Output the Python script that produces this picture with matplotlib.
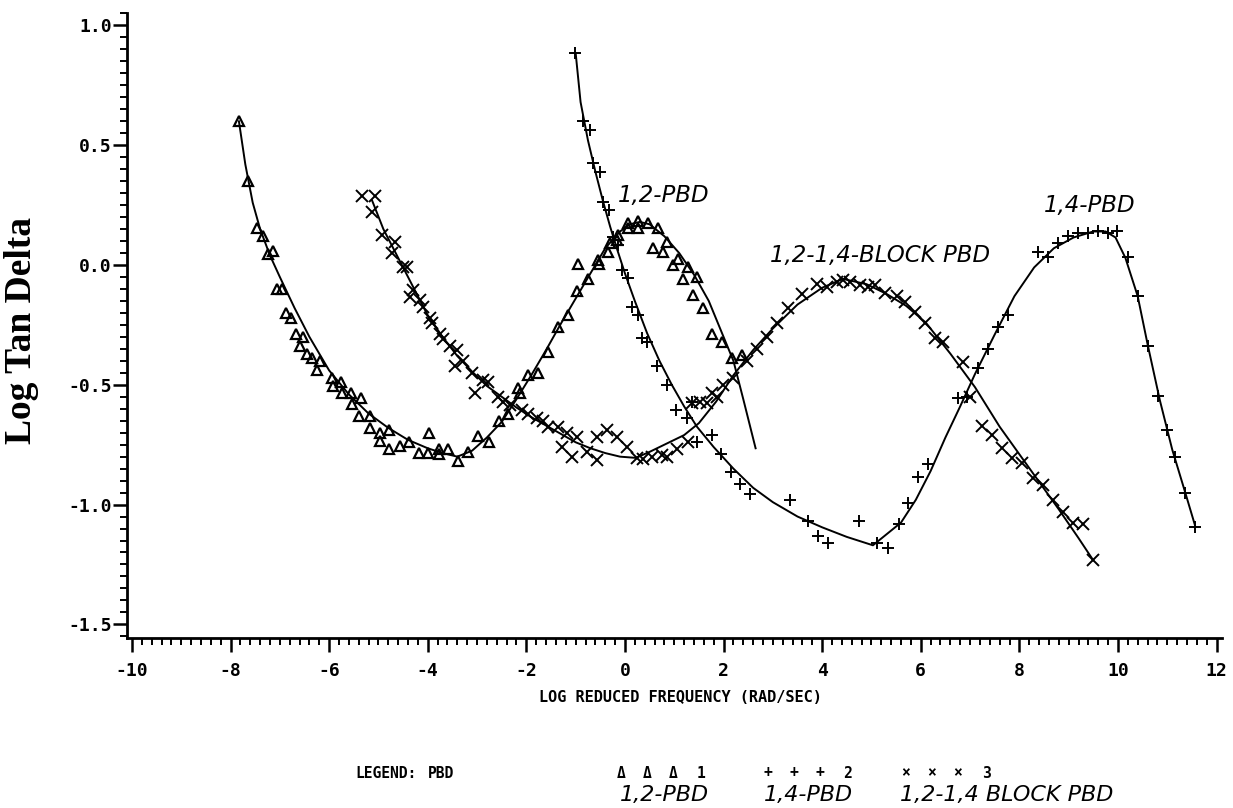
import matplotlib
matplotlib.use("Agg")
import matplotlib.pyplot as plt
from matplotlib.ticker import MultipleLocator, FixedLocator

plt.rcParams['axes.unicode_minus'] = False

# ---------------- data ----------------
# Series 1: 1,2-PBD (triangles)
tri_x = [-7.83, -7.65, -7.46, -7.34, -7.14, -7.24, -7.06, -6.96, -6.88, -6.78, -6.67, -6.53,
         -6.59, -6.45, -6.35, -6.19, -6.25, -5.94, -5.92, -5.76, -5.74, -5.56, -5.54, -5.35,
         -5.40, -5.17, -5.17, -4.97, -4.79, -4.97, -4.79, -4.56, -4.38, -4.18, -4.0, -3.98,
         -3.77, -3.77, -3.59, -3.39, -3.18, -2.98, -2.76, -2.56, -2.37, -2.13, -2.17, -1.97,
         -1.76, -1.56, -1.36, -1.16, -0.97, -0.95, -0.75, -0.55, -0.53, -0.35, -0.30, -0.16,
         -0.14, 0.06, 0.06, 0.26, 0.26, 0.47, 0.67, 0.57, 0.77, 0.85, 0.97, 1.08, 1.28, 1.46,
         1.18, 1.38, 1.58, 1.76, 1.97, 2.17, 2.37]
tri_y = [0.60, 0.35, 0.155, 0.12, 0.06, 0.045, -0.10, -0.10, -0.20, -0.22, -0.29, -0.30,
         -0.34, -0.37, -0.39, -0.40, -0.44, -0.47, -0.505, -0.49, -0.535, -0.535, -0.58, -0.555,
         -0.63, -0.63, -0.68, -0.70, -0.69, -0.735, -0.77, -0.755, -0.74, -0.785, -0.785, -0.70,
         -0.77, -0.79, -0.77, -0.82, -0.78, -0.715, -0.74, -0.65, -0.62, -0.535, -0.515, -0.46,
         -0.45, -0.365, -0.26, -0.21, -0.11, 0.005, -0.06, 0.02, 0.005, 0.055, 0.09, 0.105,
         0.125, 0.175, 0.155, 0.185, 0.155, 0.175, 0.155, 0.07, 0.055, 0.095, 0.0, 0.025, -0.01, -0.05,
         -0.06, -0.125, -0.18, -0.29, -0.32, -0.39, -0.375]
tri_fit_x = [-7.83, -7.7, -7.55, -7.4, -7.2, -7.0, -6.7, -6.4, -6.0, -5.6, -5.2, -4.8, -4.4,
             -4.0, -3.7, -3.4, -3.1, -2.8, -2.5, -2.2, -1.9, -1.6, -1.3, -1.0, -0.7, -0.4,
             -0.1, 0.1, 0.3, 0.5, 0.8, 1.1, 1.4, 1.7, 2.0, 2.2, 2.4, 2.65]
tri_fit_y = [0.60, 0.42, 0.26, 0.15, 0.04, -0.05, -0.18, -0.30, -0.44, -0.54, -0.62, -0.68,
             -0.73, -0.765, -0.785, -0.80, -0.775, -0.72, -0.655, -0.56, -0.46, -0.355,
             -0.245, -0.14, -0.035, 0.07, 0.14, 0.17, 0.18, 0.17, 0.12, 0.05, -0.04, -0.15,
             -0.30, -0.40, -0.56, -0.765]

# Series 2: 1,4-PBD (plus)
plus_x = [-1.01, -0.85, -0.71, -0.65, -0.51, -0.45, -0.32, -0.24, -0.14, -0.06, 0.06, 0.14,
          0.26, 0.34, 0.45, 0.65, 0.85, 1.03, 1.26, 1.36, 1.46, 1.76, 1.95, 2.15, 2.33, 2.54,
          3.35, 3.71, 3.91, 4.12, 4.75, 5.11, 5.34, 5.56, 5.74, 5.94, 6.15, 6.75, 6.94, 7.16,
          7.36, 7.57, 7.77, 8.38, 8.58, 8.78, 8.99, 9.19, 9.39, 9.59, 9.80, 9.98, 10.2, 10.41,
          10.61, 10.81, 10.99, 11.16, 11.36, 11.56]
plus_y = [0.885, 0.60, 0.565, 0.425, 0.39, 0.265, 0.23, 0.115, 0.085, -0.02, -0.055, -0.175,
          -0.21, -0.305, -0.32, -0.42, -0.50, -0.605, -0.64, -0.57, -0.74, -0.71, -0.79, -0.865,
          -0.915, -0.955, -0.98, -1.07, -1.13, -1.16, -1.07, -1.16, -1.18, -1.08, -0.995, -0.885,
          -0.83, -0.555, -0.55, -0.43, -0.35, -0.26, -0.21, 0.055, 0.035, 0.09, 0.12, 0.135,
          0.135, 0.14, 0.135, 0.14, 0.035, -0.13, -0.34, -0.545, -0.69, -0.80, -0.95, -1.095]
plus_fit_x = [-1.0, -0.9, -0.75, -0.6, -0.45, -0.3, -0.15, 0.0, 0.2, 0.45, 0.7, 0.95, 1.2,
              1.46, 1.8, 2.2, 2.6, 3.0, 3.5, 4.0, 4.5, 5.03, 5.3, 5.6, 5.9, 6.2, 6.5, 6.8,
              7.1, 7.5, 7.9, 8.3, 8.7, 9.1, 9.5, 9.75, 9.95, 10.15, 10.4, 10.6, 10.85, 11.1,
              11.35, 11.56]
plus_fit_y = [0.885, 0.68, 0.52, 0.39, 0.27, 0.16, 0.06, -0.035, -0.15, -0.285, -0.40,
              -0.50, -0.59, -0.675, -0.76, -0.85, -0.93, -0.99, -1.05, -1.095, -1.135, -1.17,
              -1.125, -1.075, -0.98, -0.86, -0.72, -0.59, -0.455, -0.29, -0.13, -0.01, 0.07,
              0.115, 0.14, 0.14, 0.115, 0.03, -0.13, -0.33, -0.565, -0.77, -0.94, -1.085]

# Series 3: 1,2-1,4 BLOCK PBD (cross)
cross_x = [-5.33, -5.07, -5.13, -4.93, -4.67, -4.73, -4.50, -4.42, -4.30, -4.36, -4.16, -4.10,
           -3.96, -3.92, -3.75, -3.69, -3.55, -3.41, -3.45, -3.29, -3.10, -2.88, -2.78, -3.04,
           -2.58, -2.48, -2.33, -2.09, -1.97, -1.78, -1.66, -1.56, -1.36, -1.18, -0.97, -1.28,
           -1.08, -0.77, -0.57, -0.57, -0.37, -0.16, 0.04, 0.24, 0.37, 0.55, 0.75, 0.85, 1.05,
           1.28, 1.36, 1.52, 1.66, 1.86, 1.76, 1.99, 2.19, 2.47, 2.68, 2.88, 3.08, 3.3, 3.6,
           3.9, 4.10, 4.30, 4.42, 4.56, 4.77, 4.93, 5.07, 5.27, 5.52, 5.68, 5.88, 6.09, 6.29,
           6.45, 6.86, 7.0, 7.24, 7.44, 7.65, 7.85, 8.05, 8.28, 8.48, 8.68, 8.89, 9.09, 9.29, 9.49]
cross_y = [0.29, 0.29, 0.22, 0.125, 0.095, 0.05, -0.01, -0.01, -0.105, -0.135, -0.145, -0.175,
           -0.22, -0.24, -0.29, -0.31, -0.34, -0.355, -0.42, -0.40, -0.45, -0.48, -0.49, -0.535,
           -0.55, -0.57, -0.585, -0.605, -0.62, -0.64, -0.65, -0.675, -0.675, -0.70, -0.72, -0.76,
           -0.80, -0.78, -0.815, -0.72, -0.69, -0.72, -0.76, -0.805, -0.81, -0.80, -0.795, -0.80,
           -0.77, -0.74, -0.575, -0.57, -0.575, -0.55, -0.535, -0.50, -0.47, -0.40, -0.35, -0.30,
           -0.24, -0.18, -0.12, -0.08, -0.09, -0.07, -0.063, -0.07, -0.085, -0.09, -0.085, -0.115,
           -0.13, -0.155, -0.195, -0.24, -0.305, -0.32, -0.405, -0.55, -0.67, -0.71, -0.765,
           -0.805, -0.825, -0.89, -0.92, -0.98, -1.03, -1.075, -1.08, -1.23]
cross_fit_x = [-5.13, -4.9, -4.6, -4.3, -4.0, -3.7, -3.4, -3.1, -2.8, -2.5, -2.2, -1.9, -1.6,
               -1.3, -1.0, -0.7, -0.4, -0.1, 0.22, 0.5, 0.85, 1.2, 1.5, 1.85, 2.2, 2.6, 3.0,
               3.5, 4.0, 4.42, 4.9, 5.3, 5.7, 6.1, 6.6, 7.1, 7.6, 8.0, 8.4, 8.8, 9.2, 9.49]
cross_fit_y = [0.27, 0.15, 0.03, -0.09, -0.21, -0.30, -0.38, -0.445, -0.505, -0.55, -0.595,
               -0.635, -0.67, -0.705, -0.74, -0.765, -0.785, -0.80, -0.805, -0.78, -0.745,
               -0.71, -0.66, -0.57, -0.46, -0.355, -0.265, -0.165, -0.095, -0.058, -0.08,
               -0.12, -0.17, -0.24, -0.37, -0.51, -0.675, -0.79, -0.905, -1.02, -1.14, -1.23]

x_ticks = [-10, -8, -6, -4, -2, 0, 2, 4, 6, 8, 10, 12]
x_ticklabels = ["-10", "-8", "-6", "-4", "-2", "0", "2", "4", "6", "8", "10", "12"]
y_ticks = [-1.5, -1.0, -0.5, 0.0, 0.5, 1.0]
y_ticklabels = ["-1.5", "-1.0", "-0.5", "0.0", "0.5", "1.0"]

curve_labels = ["1,2-PBD", "1,4-PBD", "1,2-1,4-BLOCK PBD"]
curve_label_pos = [(-0.15, 0.29), (8.5, 0.25), (2.95, 0.04)]
legend_names = ["1,2-PBD", "1,4-PBD", "1,2-1,4 BLOCK PBD"]
legend_symbols = ["\u0394", "+", "\u00d7"]
legend_numbers = ["1", "2", "3"]

# ---------------- figure ----------------
W, H = 1233, 808
fig = plt.figure(figsize=(W / 100, H / 100), dpi=100)
ax = fig.add_axes([127 / W, (H - 638) / H, (1222 - 127) / W, (638 - 13) / H])

lw = 1.4
ax.plot(tri_fit_x, tri_fit_y, color='black', lw=lw, zorder=2)
ax.plot(plus_fit_x, plus_fit_y, color='black', lw=lw, zorder=2)
ax.plot(cross_fit_x, cross_fit_y, color='black', lw=lw, zorder=2)

ax.plot(tri_x, tri_y, linestyle='none', marker='^', markersize=7, markerfacecolor='none',
        markeredgecolor='black', markeredgewidth=1.6, zorder=3)
ax.plot(plus_x, plus_y, linestyle='none', marker='+', markersize=9,
        markeredgecolor='black', markeredgewidth=1.4, zorder=3)
ax.plot(cross_x, cross_y, linestyle='none', marker='x', markersize=8,
        markeredgecolor='black', markeredgewidth=1.4, zorder=3)

ax.set_xlim(-10.1, 12.11)
ax.set_ylim(-1.557, 1.052)

for s in ['top', 'right']:
    ax.spines[s].set_visible(False)
for s in ['left', 'bottom']:
    ax.spines[s].set_linewidth(2.0)

ax.xaxis.set_major_locator(FixedLocator(x_ticks))
ax.set_xticklabels(x_ticklabels)
ax.xaxis.set_minor_locator(MultipleLocator(0.2))
ax.yaxis.set_major_locator(FixedLocator(y_ticks))
ax.set_yticklabels(y_ticklabels)
ax.yaxis.set_minor_locator(MultipleLocator(0.05))

ax.tick_params(axis='both', which='major', direction='out', length=10, width=1.8,
               labelsize=13)
ax.tick_params(axis='both', which='minor', direction='out', length=5, width=1.4)
ax.tick_params(axis='x', which='major', pad=7)
ax.tick_params(axis='y', which='major', pad=1)
for lab in ax.get_xticklabels() + ax.get_yticklabels():
    lab.set_family('DejaVu Sans Mono')
    lab.set_fontweight('bold')

# curve labels
for txt, (x, y) in zip(curve_labels, curve_label_pos):
    ax.text(x, y, txt, fontsize=16.5, style='italic', family='DejaVu Sans',
            ha='left', va='center')

# axis labels
fig.text(22 / W, (H - 330) / H, "Log Tan Delta", rotation=90, ha='center', va='center',
         family='Liberation Serif', fontweight='bold', fontsize=27)
fig.text(680 / W, (H - 698) / H, "LOG REDUCED FREQUENCY (RAD/SEC)", ha='center', va='center',
         family='DejaVu Sans Mono', fontweight='bold', fontsize=11)

# legend
mono = dict(family='DejaVu Sans Mono', fontweight='bold', fontsize=10.5, va='center')
r1 = (H - 773) / H
r2 = (H - 795) / H
fig.text(355 / W, r1, "LEGEND:", ha='left', **mono)
fig.text(428 / W, r1, "PBD", ha='left', **mono)
sym_x0 = [621, 768, 906]
step = 26
for sym, num, x0 in zip(legend_symbols, legend_numbers, sym_x0):
    for k in range(3):
        fig.text((x0 + step * k) / W, r1, sym, ha='center', **mono)
    fig.text((x0 + step * 3 + 2) / W, r1, num, ha='center', **mono)
it = dict(family='DejaVu Sans', style='italic', fontsize=16, va='center')
fig.text(664 / W, r2, legend_names[0], ha='center', **it)
fig.text(808 / W, r2, legend_names[1], ha='center', **it)
fig.text(900 / W, r2, legend_names[2], ha='left', **it)

fig.savefig("out.png", dpi=100)
